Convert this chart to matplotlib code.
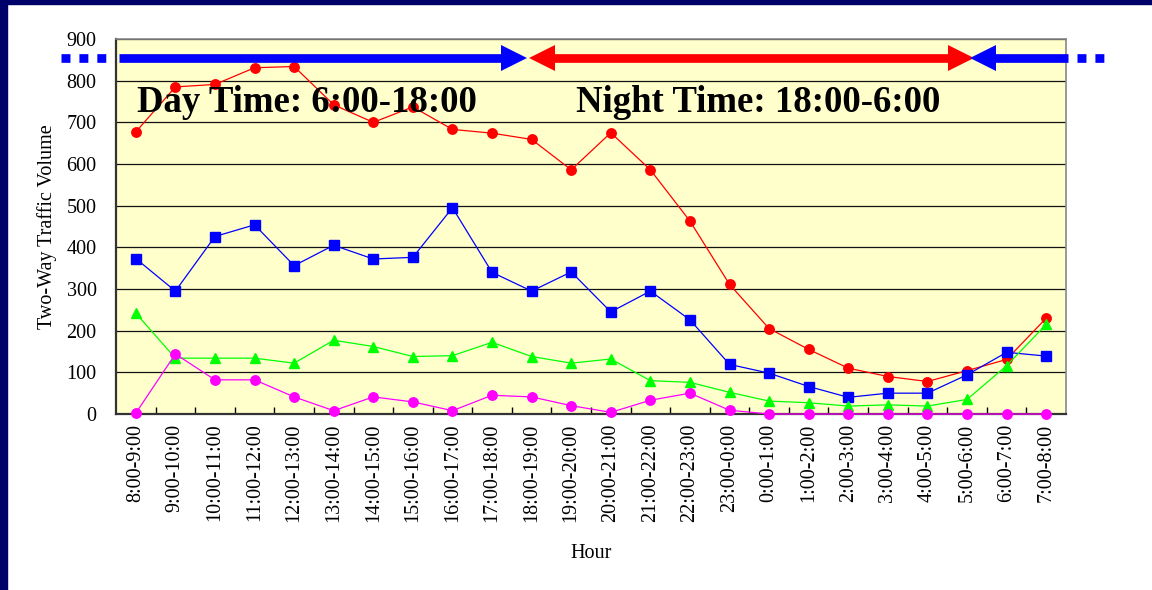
import numpy as np
import matplotlib
matplotlib.use('Agg')
import matplotlib.pyplot as plt
from matplotlib.patches import Rectangle

plt.rcParams['font.family'] = ['Liberation Serif', 'DejaVu Serif']

# 数据
hours = ['8:00-9:00', '9:00-10:00', '10:00-11:00', '11:00-12:00', '12:00-13:00',
         '13:00-14:00', '14:00-15:00', '15:00-16:00', '16:00-17:00', '17:00-18:00',
         '18:00-19:00', '19:00-20:00', '20:00-21:00', '21:00-22:00', '22:00-23:00',
         '23:00-0:00', '0:00-1:00', '1:00-2:00', '2:00-3:00', '3:00-4:00',
         '4:00-5:00', '5:00-6:00', '6:00-7:00', '7:00-8:00']
red = [677, 785, 791, 831, 834, 742, 700, 737, 683, 674, 659, 586, 675, 586,
       463, 311, 205, 155, 110, 90, 78, 104, 131, 230]
blue = [373, 295, 426, 454, 356, 405, 372, 376, 495, 340, 295, 341, 245, 295,
        226, 119, 98, 66, 40, 50, 50, 94, 148, 139]
green = [242, 134, 134, 134, 122, 177, 162, 138, 140, 172, 138, 122, 132, 80,
         76, 52, 31, 27, 19, 22, 19, 35, 116, 215]
magenta = [2, 144, 82, 82, 41, 8, 41, 29, 8, 45, 41, 20, 4, 33,
           50, 9, 0, 0, 0, 0, 0, 0, 0, 0]

day_text = 'Day Time: 6:00-18:00'
night_text = 'Night Time: 18:00-6:00'

fig = plt.figure(figsize=(11.52, 5.9), dpi=100)
ax = fig.add_axes([116/1152, 1-414/590, 950/1152, 375/590])
ax.set_facecolor('#ffffcc')

# 外框
fig.patches.append(Rectangle((0, 1-4/590), 1, 4/590, transform=fig.transFigure,
                             color='#00006b', zorder=0))
fig.patches.append(Rectangle((0, 0), 7/1152, 1, transform=fig.transFigure,
                             color='#00006b', zorder=0))

x = np.arange(len(hours))
ax.plot(x, red, color='red', lw=0.9, marker='o', ms=6.8, mec='red', zorder=3, clip_on=False)
ax.plot(x, blue, color='blue', lw=0.9, marker='s', ms=6.8, mec='blue', zorder=4, clip_on=False)
ax.plot(x, green, color='#00ff00', lw=0.9, marker='^', ms=7.8, mec='#00ff00', zorder=5, clip_on=False)
ax.plot(x, magenta, color='magenta', lw=0.9, marker='o', ms=6.8, mec='magenta', zorder=6, clip_on=False)

ax.set_xlim(-0.5, 23.5)
ax.set_ylim(0, 900)
ax.set_yticks(range(0, 901, 100))
ax.set_xticks(x)
ax.set_xticklabels(hours, rotation=90, fontsize=14.5)
ax.set_xticks(np.arange(0.5, 23, 1), minor=True)
ax.tick_params(axis='x', which='major', length=0, pad=7)
ax.tick_params(axis='x', which='minor', length=5, direction='in', width=1)
ax.tick_params(axis='y', length=0, labelsize=14.5, pad=14)
ax.grid(axis='y', color='#111111', lw=0.9)
ax.set_axisbelow(True)
for s in ['top', 'right']:
    ax.spines[s].set_color('#888888')
    ax.spines[s].set_linewidth(1.2)
for s in ['left', 'bottom']:
    ax.spines[s].set_color('#333333')
    ax.spines[s].set_linewidth(1.6)

ax.set_ylabel('Two-Way Traffic Volume', fontsize=14.5, labelpad=7)
ax.set_xlabel('Hour', fontsize=14.5, labelpad=16)

# 昼夜箭头
ya = 854
lw = 6.26
hw = 0.682
ax.plot([-0.42, 9.90-hw/2], [ya, ya], color='blue', lw=lw, solid_capstyle='butt', clip_on=False, zorder=7)
ax.plot([9.90-hw/2], [ya], marker='>', ms=19.4, color='blue', mew=0, clip_on=False, zorder=7)
ax.plot([9.93+hw/2, 21.20-hw/2], [ya, ya], color='red', lw=lw, solid_capstyle='butt', clip_on=False, zorder=7)
ax.plot([9.93+hw/2], [ya], marker='<', ms=19.4, color='red', mew=0, clip_on=False, zorder=7)
ax.plot([21.20-hw/2], [ya], marker='>', ms=19.4, color='red', mew=0, clip_on=False, zorder=7)
ax.plot([21.05+hw/2, 23.55], [ya, ya], color='blue', lw=lw, solid_capstyle='butt', clip_on=False, zorder=7)
ax.plot([21.05+hw/2], [ya], marker='<', ms=19.4, color='blue', mew=0, clip_on=False, zorder=7)
ax.plot([-1.89, -0.73], [ya, ya], color='blue', lw=lw, ls=(0, (1.03, 1.03)),
        dash_capstyle='butt', clip_on=False, zorder=7)
ax.plot([23.78, 24.46], [ya, ya], color='blue', lw=lw, ls=(0, (1.03, 1.03)),
        dash_capstyle='butt', clip_on=False, zorder=7)

ax.text(4.33, 747, day_text, fontsize=26.5, fontweight='bold', ha='center', va='center', zorder=8)
ax.text(15.72, 747, night_text, fontsize=26.5, fontweight='bold', ha='center', va='center', zorder=8)

fig.savefig('out.png', dpi=100)
